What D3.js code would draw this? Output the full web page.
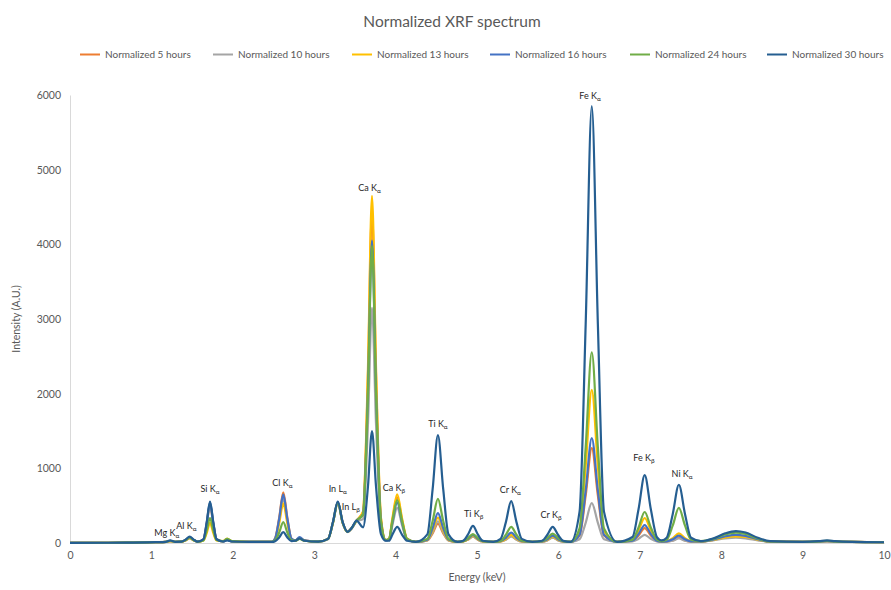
<!DOCTYPE html>
<html>
<head>
<meta charset="utf-8">
<script src="https://cdn.jsdelivr.net/npm/d3@7"></script>
<style>
  body { margin: 0; background: #fff; }
  svg { font-family: Lato, "Open Sans", sans-serif; }
</style>
</head>
<body>
<svg id="chart" width="891" height="590"></svg>
<script>
// energy grid (keV), shared by all series
const energy = [0, 0.7, 1.05, 1.18, 1.23, 1.29, 1.37, 1.42, 1.47, 1.52,
  1.57, 1.64, 1.68, 1.72, 1.76, 1.80, 1.88, 1.93, 1.99, 2.2,
  2.48, 2.52, 2.57, 2.62, 2.67, 2.72, 2.77, 2.82, 2.88, 3.05,
  3.17, 3.23, 3.29, 3.35, 3.41, 3.46, 3.52, 3.60, 3.66, 3.71,
  3.76, 3.82, 3.88, 3.92, 3.96, 4.02, 4.08, 4.14, 4.25, 4.39,
  4.455, 4.52, 4.585, 4.65, 4.76, 4.83, 4.89, 4.95, 5.01, 5.07,
  5.2, 5.29, 5.355, 5.42, 5.485, 5.55, 5.68, 5.80, 5.865, 5.93,
  5.995, 6.06, 6.15, 6.26, 6.335, 6.41, 6.485, 6.56, 6.72, 6.91,
  6.985, 7.06, 7.135, 7.21, 7.27, 7.33, 7.405, 7.48, 7.555, 7.63,
  7.75, 7.9, 8.05, 8.18, 8.3, 8.45, 8.6, 9.0, 9.2, 9.3,
  9.4, 9.6, 10];

// intensities (A.U.)
const hours5 = [2, 5, 12, 16, 25, 16, 18, 38, 70, 38,
  18, 50, 260, 520, 260, 50, 22, 50, 22, 15,
  15, 60, 340, 680, 340, 60, 35, 70, 35, 18,
  55, 272, 545, 272, 150, 200, 300, 410, 2225, 4450,
  2225, 325, 40, 55, 305, 610, 305, 55, 15, 35,
  130, 260, 130, 35, 15, 20, 45, 90, 45, 20,
  15, 20, 48, 95, 48, 20, 15, 18, 38, 75,
  38, 18, 15, 100, 635, 1270, 635, 100, 15, 28,
  100, 200, 100, 28, 15, 18, 35, 70, 35, 18,
  18, 40, 75, 90, 80, 42, 18, 15, 20, 25,
  20, 15, 10];
const hours10 = [2, 5, 12, 15, 20, 15, 17, 35, 60, 35,
  18, 45, 250, 500, 250, 45, 20, 45, 20, 15,
  15, 55, 300, 600, 300, 55, 30, 60, 30, 18,
  50, 265, 530, 265, 145, 190, 290, 320, 1575, 3150,
  1575, 230, 35, 45, 235, 470, 235, 45, 15, 35,
  145, 290, 145, 35, 15, 20, 45, 90, 45, 20,
  15, 20, 45, 90, 45, 20, 15, 18, 35, 70,
  35, 18, 15, 50, 270, 535, 270, 50, 15, 22,
  55, 110, 55, 22, 15, 18, 30, 60, 30, 18,
  18, 35, 60, 70, 62, 35, 18, 15, 18, 20,
  18, 15, 10];
const hours13 = [2, 5, 12, 16, 25, 16, 18, 35, 65, 35,
  18, 35, 135, 270, 135, 35, 25, 60, 25, 15,
  15, 50, 265, 530, 265, 50, 30, 60, 30, 18,
  55, 270, 540, 270, 150, 200, 300, 425, 2325, 4650,
  2325, 340, 40, 60, 325, 650, 325, 60, 15, 40,
  170, 340, 170, 40, 15, 22, 50, 100, 50, 22,
  15, 22, 55, 110, 55, 22, 15, 20, 42, 85,
  42, 20, 15, 160, 1025, 2050, 1025, 160, 15, 38,
  170, 335, 170, 38, 18, 25, 65, 130, 65, 25,
  20, 40, 75, 90, 80, 45, 18, 15, 20, 25,
  20, 15, 10];
const hours16 = [2, 5, 12, 16, 30, 16, 18, 40, 75, 40,
  18, 50, 275, 545, 275, 50, 20, 40, 20, 15,
  15, 60, 325, 650, 325, 60, 35, 80, 35, 18,
  55, 275, 550, 275, 150, 200, 300, 385, 2025, 4050,
  2025, 290, 35, 50, 270, 540, 270, 50, 15, 45,
  200, 400, 200, 45, 15, 25, 55, 110, 55, 25,
  15, 25, 70, 140, 70, 25, 15, 22, 50, 100,
  50, 22, 15, 110, 700, 1405, 700, 110, 15, 30,
  120, 240, 120, 30, 18, 22, 50, 100, 50, 22,
  20, 45, 90, 110, 95, 50, 20, 15, 20, 25,
  20, 15, 10];
const hours24 = [2, 5, 12, 16, 30, 16, 18, 40, 75, 40,
  18, 35, 170, 335, 170, 40, 25, 55, 25, 15,
  15, 35, 140, 280, 140, 35, 30, 55, 30, 18,
  55, 270, 540, 270, 150, 200, 300, 380, 1990, 3980,
  1990, 290, 40, 55, 290, 575, 290, 55, 15, 55,
  295, 590, 295, 55, 15, 25, 65, 120, 65, 25,
  15, 30, 110, 215, 110, 30, 15, 25, 70, 125,
  70, 25, 15, 195, 1280, 2555, 1280, 195, 15, 45,
  210, 415, 210, 45, 25, 45, 235, 470, 235, 45,
  25, 55, 115, 140, 120, 60, 20, 15, 22, 30,
  22, 15, 10];
const hours30 = [2, 5, 12, 16, 35, 16, 18, 45, 85, 45,
  18, 50, 280, 555, 280, 50, 20, 35, 20, 15,
  15, 25, 75, 145, 75, 25, 30, 60, 30, 18,
  55, 280, 555, 280, 150, 200, 300, 210, 750, 1500,
  750, 120, 30, 30, 110, 215, 110, 30, 15, 115,
  720, 1445, 720, 115, 15, 30, 115, 230, 115, 30,
  15, 55, 280, 560, 280, 55, 15, 30, 110, 215,
  110, 30, 15, 420, 2925, 5850, 2925, 420, 15, 80,
  455, 910, 455, 80, 35, 70, 390, 780, 390, 70,
  25, 60, 130, 160, 140, 70, 25, 15, 25, 35,
  25, 15, 10];

const seriesNames = ['Normalized 5 hours', 'Normalized 10 hours', 'Normalized 13 hours',
  'Normalized 16 hours', 'Normalized 24 hours', 'Normalized 30 hours'];
const seriesValues = [hours5, hours10, hours13, hours16, hours24, hours30];
const seriesColors = ['#ED7D31', '#A5A5A5', '#FFC000', '#4472C4', '#70AD47', '#255E91'];

// peak labels: element, line, subscript, energy (keV), intensity where label sits
const peakElem = ['Mg K', 'Al K', 'Si K', 'Cl K', 'In L', 'In L', 'Ca K', 'Ca K',
  'Ti K', 'Ti K', 'Cr K', 'Cr K', 'Fe K', 'Fe K', 'Ni K'];
const peakSub = ['α', 'α', 'α', 'α', 'α', 'β', 'α', 'β', 'α', 'β', 'α', 'β', 'α', 'β', 'α'];
const peakE = [1.19, 1.43, 1.72, 2.61, 3.29, 3.45, 3.68, 3.98, 4.52, 4.96, 5.41, 5.91, 6.39, 7.05, 7.52];
const peakY = [100, 190, 680, 760, 680, 440, 4710, 700, 1550, 350, 670, 330, 5950, 1100, 880];

const xTicks = d3.range(0, 11, 1);
const yTicks = d3.range(0, 7000, 1000);

const svg = d3.select('#chart');
const margin = { left: 70, right: 7, top: 95, bottom: 47 };
const width = 891, height = 590;

const x = d3.scaleLinear().domain([0, 10]).range([margin.left, width - margin.right]);
const y = d3.scaleLinear().domain([0, 6000]).range([height - margin.bottom, margin.top]);

const textColor = '#595959';

// title
svg.append('text')
  .attr('x', 452).attr('y', 27)
  .attr('text-anchor', 'middle')
  .attr('font-size', '15.5px')
  .attr('fill', textColor)
  .text('Normalized XRF spectrum');

// legend
const legendX = [80, 213, 352, 490, 630, 767];
seriesNames.forEach((name, i) => {
  const g = svg.append('g').attr('transform', `translate(${legendX[i]},58)`);
  g.append('line')
    .attr('x1', 0).attr('x2', 20).attr('y1', -3.5).attr('y2', -3.5)
    .attr('stroke', seriesColors[i]).attr('stroke-width', 2);
  g.append('text')
    .attr('x', 25).attr('y', 0)
    .attr('font-size', '10px')
    .attr('fill', textColor)
    .text(name);
});

// axes
const xAxis = d3.axisBottom(x).tickValues(xTicks).tickSize(0).tickPadding(9);
const yAxis = d3.axisLeft(y).tickValues(yTicks).tickSize(0).tickPadding(9).tickFormat(d3.format('d'));

const gx = svg.append('g').attr('transform', `translate(0,${y(0)})`).call(xAxis);
gx.select('.domain').attr('stroke', '#D9D9D9');
gx.selectAll('text').attr('font-size', '10.5px').attr('fill', textColor).attr('font-family', 'Lato, sans-serif');

const gy = svg.append('g').attr('transform', `translate(${x(0)},0)`).call(yAxis);
gy.select('.domain').attr('stroke', '#D9D9D9');
gy.selectAll('text').attr('font-size', '10.5px').attr('fill', textColor).attr('font-family', 'Lato, sans-serif');

svg.append('text')
  .attr('x', x(5)).attr('y', 581)
  .attr('text-anchor', 'middle')
  .attr('font-size', '10.5px')
  .attr('fill', textColor)
  .text('Energy (keV)');

svg.append('text')
  .attr('transform', `translate(20,${y(3000)}) rotate(-90)`)
  .attr('text-anchor', 'middle')
  .attr('font-size', '10.5px')
  .attr('fill', textColor)
  .text('Intensity (A.U.)');

// spectra
const line = d3.line()
  .x((d, i) => x(energy[i]))
  .y(d => y(d))
  .curve(d3.curveMonotoneX);

svg.append('g')
  .selectAll('path')
  .data(seriesValues)
  .join('path')
  .attr('d', line)
  .attr('fill', 'none')
  .attr('stroke', (d, i) => seriesColors[i])
  .attr('stroke-width', 2.2)
  .attr('stroke-linejoin', 'round');

// peak labels
peakElem.forEach((el, i) => {
  const t = svg.append('text')
    .attr('x', x(peakE[i])).attr('y', y(peakY[i]))
    .attr('text-anchor', 'middle')
    .attr('font-size', '9px')
    .attr('fill', '#262626');
  t.append('tspan').text(el);
  t.append('tspan')
    .attr('font-size', '6.5px')
    .attr('dy', 2)
    .text(peakSub[i]);
});
</script>
</body>
</html>
